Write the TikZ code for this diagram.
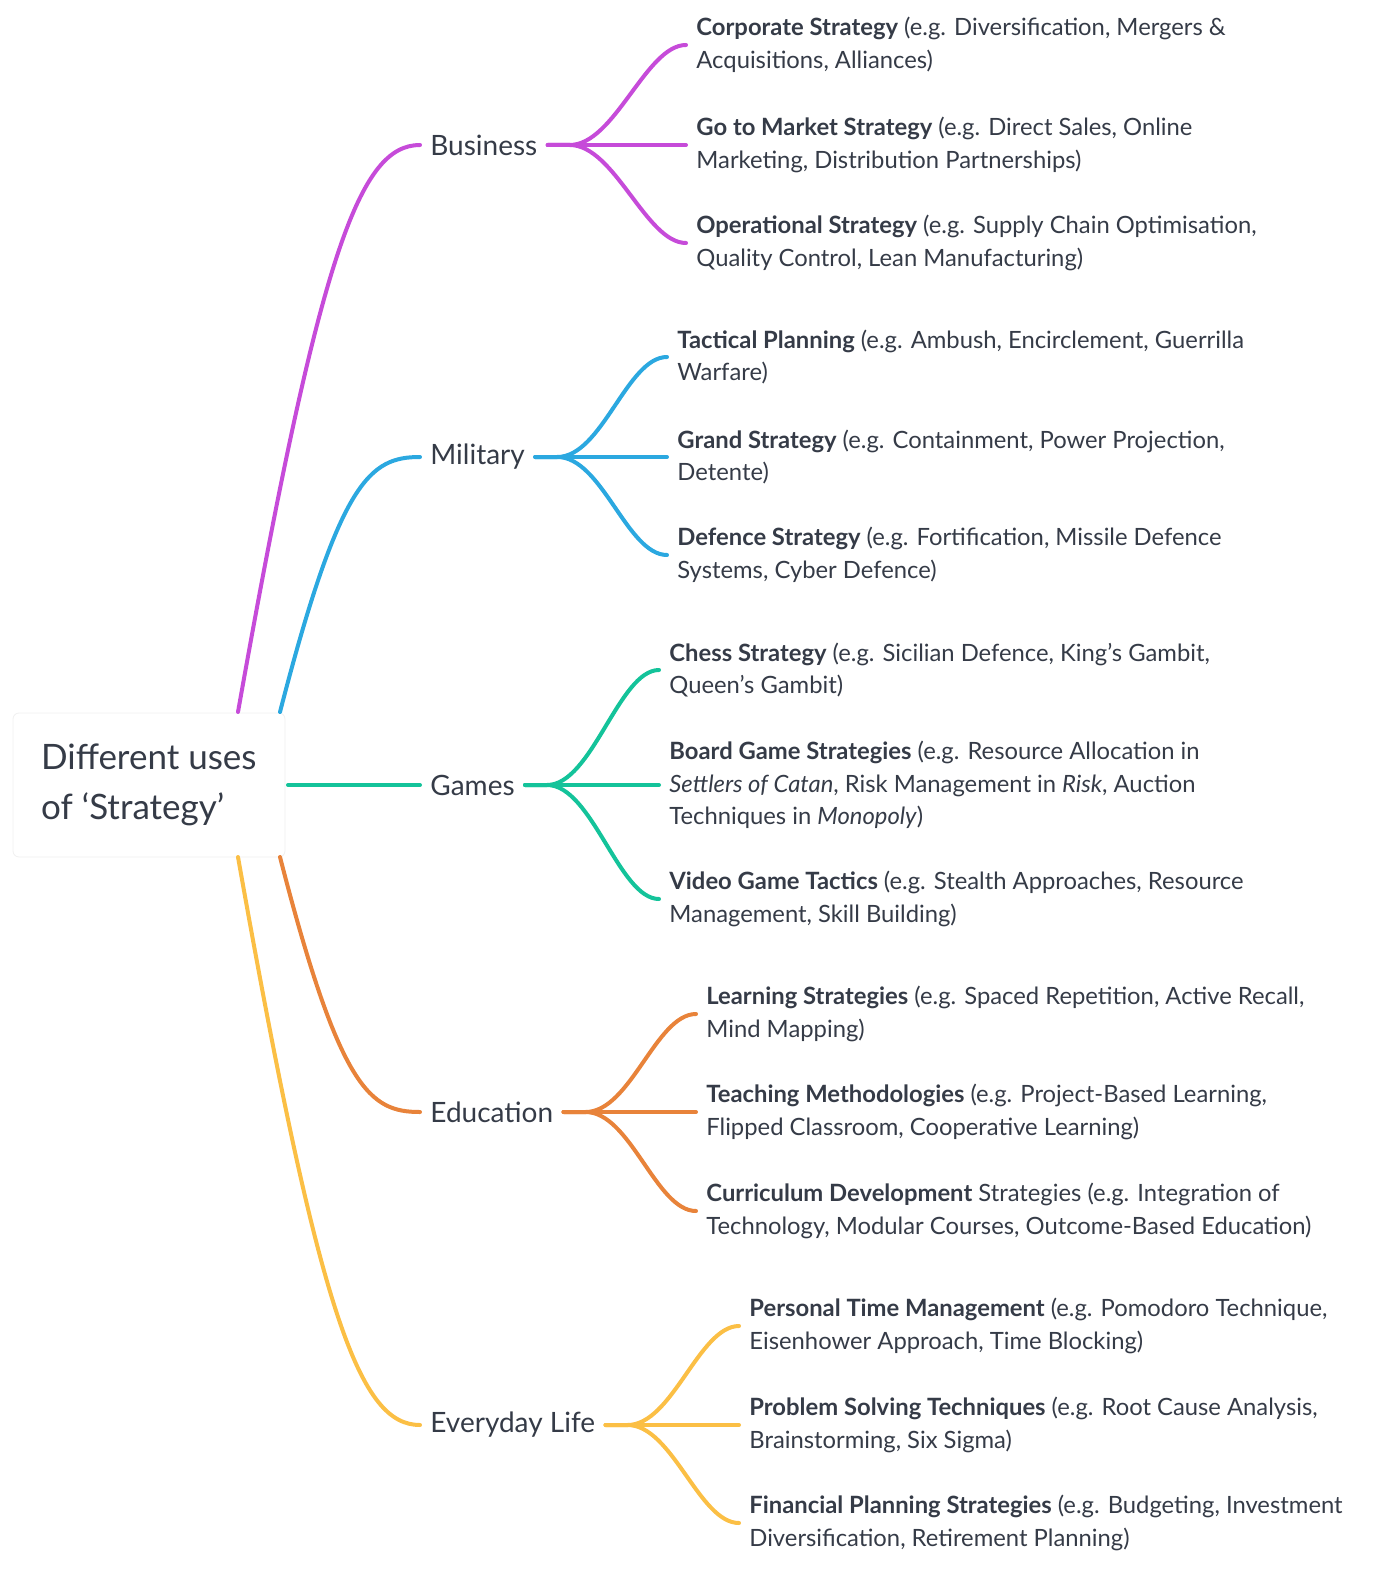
\documentclass[tikz,border=0pt]{standalone}
\usepackage{fontspec}
\setmainfont{Lato}
\definecolor{txt}{HTML}{353B47}
\definecolor{cB}{HTML}{C64BD9}
\definecolor{cM}{HTML}{2BA8E0}
\definecolor{cG}{HTML}{14C39A}
\definecolor{cE}{HTML}{E8833A}
\definecolor{cL}{HTML}{FBBF45}
\begin{document}
\begin{tikzpicture}[x=0.5pt,y=-0.5pt,
 lbl/.style={anchor=west,inner sep=5pt,text=txt,font=\fontsize{14}{15}\selectfont},
 leaf/.style={anchor=west,inner sep=5pt,text=txt,align=left,font=\fontsize{11.9}{16.3}\selectfont},
 br/.style={line width=2pt,line cap=round}]
\useasboundingbox (0,0) rectangle (1400,1593);
\node[draw=black!6,fill=white,rounded corners=3pt,minimum width=136pt,minimum height=72pt,inner sep=0] (root) at (149,785) {};
\node[anchor=west,text=txt,align=left,font=\fontsize{17.5}{25}\selectfont] (rt) at (34,785) {Different uses\\of ‘Strategy’};
\coordinate (r1) at (238,712); \coordinate (r2) at (280,712); \coordinate (r3) at (288,785);
\coordinate (r4) at (280,857); \coordinate (r5) at (238,857);
\node[lbl] (bus) at (420,145) {Business};
\node[lbl] (mil) at (420,457) {Military};
\node[lbl] (gam) at (420,785) {Games};
\node[lbl] (edu) at (420,1112) {Education};
\node[lbl] (eve) at (420,1425) {Everyday Life};
\draw[br,cB] (r1) .. controls (320,250) and (360,145) .. (bus.west);
\draw[br,cM] (r2) .. controls (340,480) and (370,457) .. (mil.west);
\draw[br,cG] (r3) -- (gam.west);
\draw[br,cE] (r4) .. controls (340,1090) and (370,1112) .. (edu.west);
\draw[br,cL] (r5) .. controls (320,1320) and (360,1425) .. (eve.west);
% Business
\node[leaf] (b1) at (686,45) {\textbf{Corporate Strategy} (e.g. Diversification, Mergers \&\\Acquisitions, Alliances)};
\node[leaf] (b2) at (686,145) {\textbf{Go to Market Strategy} (e.g. Direct Sales, Online\\Marketing, Distribution Partnerships)};
\node[leaf] (b3) at (686,243) {\textbf{Operational Strategy} (e.g. Supply Chain Optimisation,\\Quality Control, Lean Manufacturing)};
% Military
\node[leaf] (m1) at (667,357) {\textbf{Tactical Planning} (e.g. Ambush, Encirclement, Guerrilla\\Warfare)};
\node[leaf] (m2) at (667,457) {\textbf{Grand Strategy} (e.g. Containment, Power Projection,\\Detente)};
\node[leaf] (m3) at (667,555) {\textbf{Defence Strategy} (e.g. Fortification, Missile Defence\\Systems, Cyber Defence)};
% Games
\node[leaf] (g1) at (659,670) {\textbf{Chess Strategy} (e.g. Sicilian Defence, King's Gambit,\\Queen's Gambit)};
\node[leaf] (g2) at (659,785) {\textbf{Board Game Strategies} (e.g. Resource Allocation in\\\textit{Settlers of Catan}, Risk Management in \textit{Risk}, Auction\\Techniques in \textit{Monopoly})};
\node[leaf] (g3) at (659,899) {\textbf{Video Game Tactics} (e.g. Stealth Approaches, Resource\\Management, Skill Building)};
% Education
\node[leaf] (e1) at (696,1014) {\textbf{Learning Strategies} (e.g. Spaced Repetition, Active Recall,\\Mind Mapping)};
\node[leaf] (e2) at (696,1112) {\textbf{Teaching Methodologies} (e.g. Project-Based Learning,\\Flipped Classroom, Cooperative Learning)};
\node[leaf] (e3) at (696,1211) {\textbf{Curriculum Development} Strategies (e.g. Integration of\\Technology, Modular Courses, Outcome-Based Education)};
% Everyday
\node[leaf] (l1) at (739,1326) {\textbf{Personal Time Management} (e.g. Pomodoro Technique,\\Eisenhower Approach, Time Blocking)};
\node[leaf] (l2) at (739,1425) {\textbf{Problem Solving Techniques} (e.g. Root Cause Analysis,\\Brainstorming, Six Sigma)};
\node[leaf] (l3) at (739,1523) {\textbf{Financial Planning Strategies} (e.g. Budgeting, Investment\\Diversification, Retirement Planning)};
\foreach \p/\c/\col in {bus/b1/cB,bus/b2/cB,bus/b3/cB,mil/m1/cM,mil/m2/cM,mil/m3/cM,gam/g1/cG,gam/g2/cG,gam/g3/cG,edu/e1/cE,edu/e2/cE,edu/e3/cE,eve/l1/cL,eve/l2/cL,eve/l3/cL}
 \draw[br,\col] (\p.east) -- ++(22,0) .. controls +(45,0) and +(-40,0) .. (\c.west);
\end{tikzpicture}
\end{document}
